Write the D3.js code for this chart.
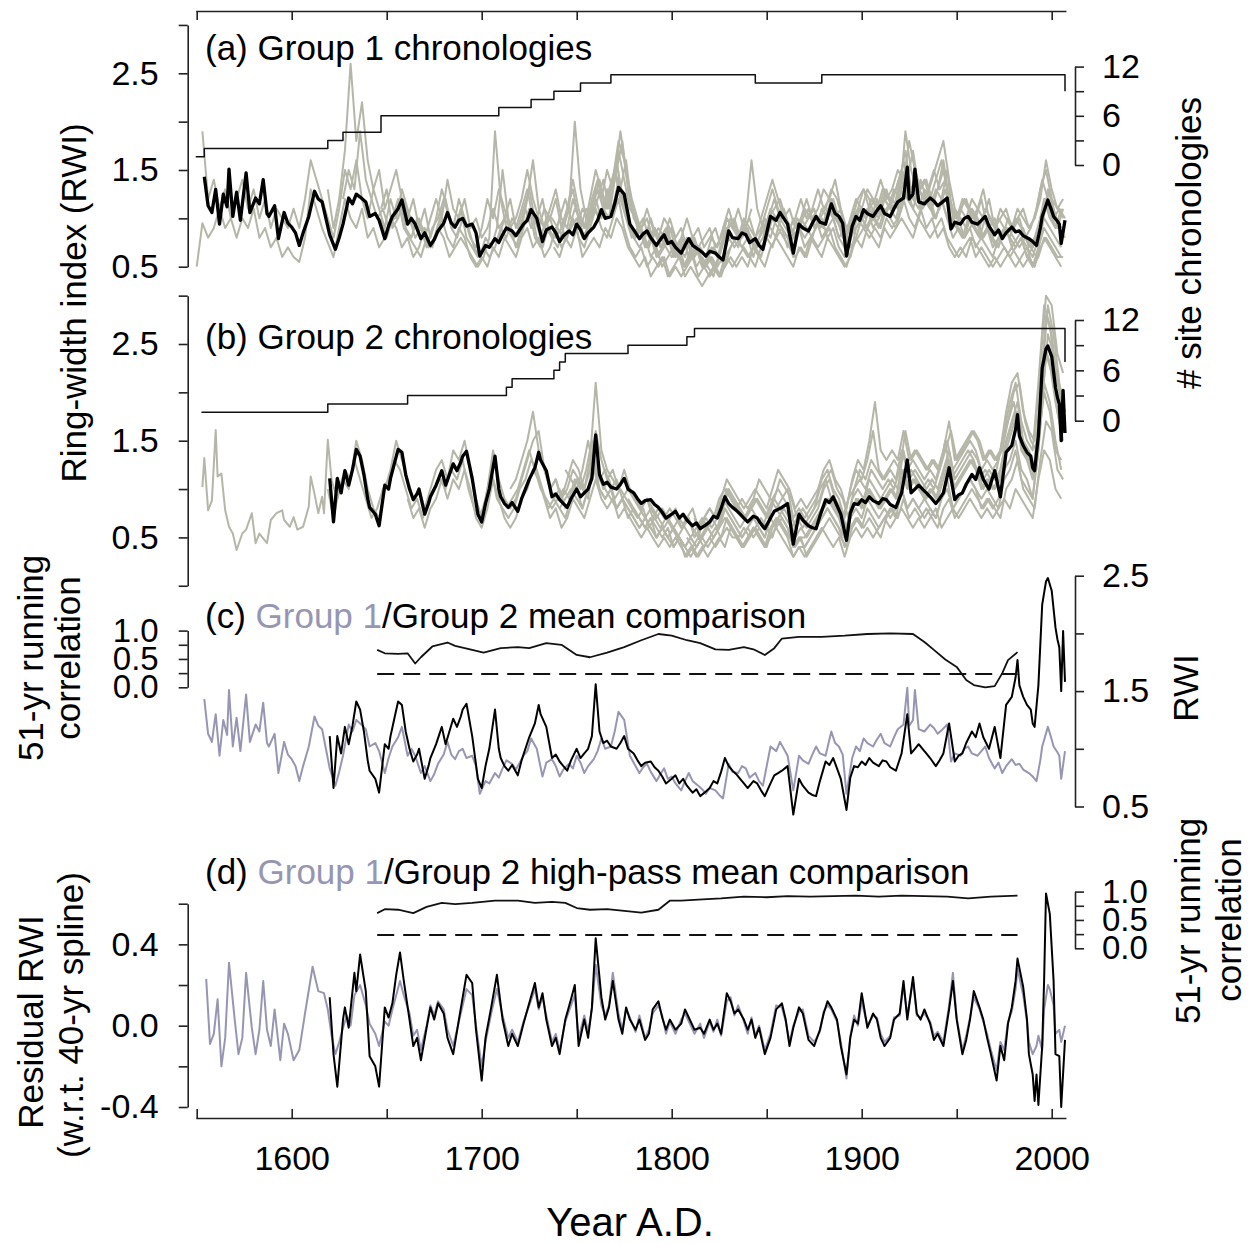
<!DOCTYPE html>
<html><head><meta charset="utf-8">
<script src="https://cdn.jsdelivr.net/npm/d3@7"></script>
<style>body{margin:0;background:#fff} svg{display:block} text{font-family:"Liberation Sans",Arial,sans-serif}</style>
</head><body><svg id="c" width="1252" height="1243"></svg>
<script>
// ---------------- DATA ----------------
const xTicks=[1550,1600,1650,1700,1750,1800,1850,1900,1950,2000];
const xLabels=[1600,1700,1800,1900,2000];
const countA=[[1549.5,1],[1554,2],[1619,3],[1627,4],[1647,6],[1709,7],[1726,8],[1738,9],[1752,10],[1768,11],[1844,10],[1879,11],[2006,11],[2007,9]];
const countB=[[1552.5,1],[1619,2],[1661,3],[1713,4],[1716,5],[1738,6],[1741,7],[1744,8],[1777,9],[1808,10],[1812,11],[2006,11],[2007,7]];
const g1Mean=[[1554,1.43],[1556,1.13],[1558,1.06],[1560,1.30],[1562,0.94],[1564,1.25],[1566,1.12],[1567,1.51],[1569,1.02],[1571,1.27],[1573,0.98],[1576,1.47],[1578,1.06],[1581,1.21],[1583,1.15],[1585,1.40],[1587,1.05],[1588,1.02],[1591,1.13],[1593,0.79],[1596,1.06],[1598,0.95],[1600,0.91],[1602,0.85],[1604,0.72],[1606,0.85],[1609,1.02],[1612,1.28],[1614,1.20],[1616,1.17],[1618,1.0],[1620,0.83],[1623,0.68],[1625,0.80],[1627,0.94],[1630,1.21],[1632,1.15],[1634,1.25],[1636,1.22],[1639,1.17],[1641,1.02],[1644,1.05],[1646,0.98],[1649,0.79],[1651,0.92],[1653,1.02],[1656,1.10],[1658,1.19],[1661,0.94],[1663,1.0],[1665,0.94],[1668,0.79],[1670,0.85],[1673,0.72],[1675,0.78],[1677,0.87],[1680,0.95],[1682,1.06],[1684,0.95],[1686,0.91],[1688,0.98],[1690,1.0],[1692,0.92],[1695,0.94],[1697,0.85],[1699,0.61],[1702,0.72],[1704,0.70],[1707,0.79],[1709,0.75],[1711,0.83],[1713,0.90],[1716,0.87],[1718,0.82],[1722,0.94],[1724,0.98],[1726,1.09],[1729,1.0],[1732,0.76],[1734,0.88],[1737,0.91],[1739,0.85],[1741,0.76],[1743,0.82],[1746,0.87],[1748,0.83],[1750,0.94],[1752,0.88],[1754,0.79],[1756,0.85],[1759,0.91],[1761,0.98],[1763,1.09],[1765,1.0],[1768,1.02],[1770,1.15],[1772,1.32],[1775,1.25],[1778,0.94],[1780,0.88],[1783,0.79],[1785,0.84],[1787,0.87],[1789,0.80],[1792,0.72],[1794,0.78],[1796,0.83],[1798,0.74],[1800,0.76],[1802,0.70],[1805,0.64],[1807,0.72],[1809,0.79],[1811,0.72],[1814,0.68],[1816,0.65],[1818,0.61],[1820,0.66],[1823,0.64],[1825,0.60],[1827,0.57],[1830,0.87],[1832,0.80],[1835,0.79],[1837,0.85],[1839,0.83],[1841,0.75],[1844,0.79],[1846,0.72],[1848,0.68],[1850,0.85],[1852,1.02],[1855,0.98],[1857,1.06],[1859,1.0],[1861,0.94],[1864,0.64],[1867,0.94],[1869,0.90],[1872,0.87],[1874,0.95],[1876,1.02],[1878,0.96],[1881,0.94],[1884,1.15],[1886,1.05],[1888,1.02],[1890,0.95],[1892,0.61],[1895,0.92],[1897,1.02],[1899,0.98],[1901,1.09],[1903,1.05],[1906,1.02],[1908,1.08],[1910,1.13],[1912,1.05],[1915,1.02],[1917,1.10],[1919,1.17],[1922,1.21],[1924,1.53],[1925,1.20],[1927,1.25],[1928,1.51],[1930,1.17],[1933,1.15],[1936,1.21],[1938,1.18],[1940,1.13],[1942,1.16],[1945,1.21],[1947,0.89],[1949,0.96],[1952,0.94],[1954,1.0],[1956,1.02],[1958,0.96],[1961,0.94],[1963,0.98],[1965,1.02],[1967,0.92],[1970,0.83],[1972,0.88],[1974,0.79],[1976,0.85],[1979,0.91],[1981,0.86],[1983,0.87],[1985,0.82],[1988,0.79],[1990,0.76],[1992,0.72],[1994,0.90],[1995,1.02],[1998,1.19],[2000,1.08],[2001,1.02],[2003,0.97],[2004,0.94],[2005,0.74],[2007,0.98]];
const g2Mean=[[1620,1.11],[1622,0.66],[1624,1.11],[1626,0.96],[1628,1.19],[1630,1.04],[1632,1.20],[1634,1.41],[1636,1.34],[1638,1.15],[1640,0.90],[1641,0.81],[1644,0.74],[1646,0.62],[1649,1.04],[1651,1.0],[1652,1.11],[1654,1.26],[1656,1.41],[1658,1.38],[1660,1.15],[1662,1.0],[1664,0.89],[1666,0.95],[1667,1.0],[1670,0.74],[1672,0.85],[1673,0.92],[1676,1.04],[1679,1.19],[1681,1.04],[1683,1.15],[1685,1.26],[1687,1.19],[1689,1.28],[1690,1.34],[1692,1.39],[1695,1.11],[1698,0.74],[1700,0.66],[1702,0.85],[1704,1.0],[1707,1.34],[1709,1.0],[1710,0.92],[1712,0.85],[1714,0.81],[1716,0.86],[1719,0.77],[1721,0.90],[1723,1.0],[1725,1.10],[1728,1.22],[1730,1.38],[1731,1.30],[1734,1.19],[1737,0.92],[1739,0.95],[1741,0.89],[1743,0.85],[1745,0.81],[1747,0.90],[1750,1.0],[1752,0.92],[1754,0.96],[1756,1.0],[1758,1.11],[1760,1.56],[1762,1.15],[1764,1.05],[1766,1.07],[1768,1.02],[1771,1.0],[1773,1.05],[1775,1.11],[1777,1.0],[1780,0.96],[1782,0.90],[1784,0.85],[1786,0.88],[1789,0.89],[1791,0.84],[1793,0.81],[1795,0.76],[1797,0.70],[1800,0.74],[1802,0.77],[1804,0.70],[1806,0.74],[1808,0.68],[1811,0.62],[1813,0.65],[1815,0.59],[1818,0.63],[1820,0.66],[1822,0.72],[1824,0.70],[1826,0.80],[1828,0.92],[1830,0.85],[1832,0.81],[1834,0.78],[1836,0.74],[1838,0.70],[1840,0.66],[1843,0.72],[1845,0.70],[1847,0.64],[1849,0.59],[1852,0.70],[1854,0.77],[1856,0.79],[1858,0.81],[1861,0.85],[1864,0.43],[1867,0.74],[1869,0.68],[1872,0.62],[1874,0.60],[1876,0.59],[1878,0.72],[1881,0.89],[1883,0.86],[1885,0.92],[1887,0.83],[1889,0.74],[1892,0.47],[1894,0.75],[1896,0.85],[1898,0.84],[1900,0.89],[1902,0.86],[1904,0.92],[1906,0.88],[1909,0.85],[1911,0.90],[1913,0.89],[1915,0.84],[1918,0.81],[1921,0.96],[1924,1.30],[1926,0.96],[1928,1.0],[1930,1.04],[1932,1.0],[1934,0.96],[1936,0.92],[1939,0.85],[1941,0.90],[1943,0.96],[1946,1.22],[1949,0.89],[1951,0.94],[1953,0.96],[1955,1.05],[1958,1.15],[1960,1.10],[1962,1.22],[1964,1.10],[1967,1.0],[1970,1.19],[1973,0.92],[1976,1.38],[1979,1.45],[1981,1.62],[1982,1.77],[1983,1.55],[1985,1.45],[1987,1.38],[1989,1.34],[1990,1.22],[1991,1.19],[1993,1.55],[1995,2.25],[1997,2.45],[1998,2.48],[2000,2.37],[2002,2.05],[2003,1.95],[2004,1.88],[2005,1.50],[2006,2.02],[2007,1.58]];
const corrMean=[[1645,0.66],[1649,0.60],[1656,0.59],[1661,0.60],[1665,0.42],[1668,0.53],[1674,0.72],[1682,0.79],[1686,0.73],[1695,0.66],[1701,0.61],[1710,0.69],[1719,0.71],[1725,0.69],[1734,0.78],[1742,0.75],[1750,0.57],[1757,0.53],[1766,0.61],[1775,0.71],[1784,0.83],[1793,0.94],[1800,0.91],[1808,0.83],[1815,0.78],[1823,0.67],[1830,0.66],[1838,0.71],[1843,0.67],[1849,0.57],[1854,0.69],[1858,0.86],[1867,0.89],[1879,0.89],[1891,0.91],[1903,0.94],[1915,0.95],[1927,0.94],[1933,0.80],[1938,0.66],[1944,0.49],[1950,0.36],[1955,0.13],[1959,0.04],[1965,0.0],[1970,0.02],[1974,0.25],[1977,0.48],[1982,0.62]];
const corrHP=[[1645,0.62],[1649,0.69],[1656,0.68],[1664,0.62],[1671,0.73],[1679,0.80],[1686,0.78],[1695,0.80],[1707,0.84],[1719,0.84],[1728,0.80],[1737,0.82],[1744,0.80],[1750,0.71],[1757,0.68],[1766,0.69],[1775,0.66],[1784,0.63],[1793,0.68],[1799,0.84],[1805,0.84],[1814,0.86],[1826,0.88],[1838,0.91],[1850,0.90],[1861,0.92],[1873,0.91],[1885,0.92],[1897,0.93],[1909,0.91],[1921,0.93],[1933,0.92],[1945,0.91],[1956,0.88],[1968,0.91],[1982,0.93]];
const sigLevel=[[1645,0.235],[1982,0.235]];
const g1HP=[[1555,0.23],[1557,-0.09],[1559,-0.04],[1561,0.13],[1563,-0.20],[1565,-0.06],[1567,0.31],[1570,0.03],[1572,-0.14],[1574,-0.06],[1576,0.26],[1579,-0.01],[1581,-0.14],[1583,-0.02],[1585,0.22],[1587,-0.02],[1589,-0.10],[1591,0.08],[1594,-0.17],[1596,0.01],[1598,-0.04],[1601,-0.17],[1604,-0.12],[1607,0.06],[1611,0.29],[1614,0.17],[1617,0.16],[1619,0.08],[1621,-0.05],[1623,-0.14],[1625,-0.08],[1627,-0.01],[1629,0.05],[1631,0.0],[1633,0.15],[1636,0.20],[1639,0.10],[1641,0.01],[1644,-0.04],[1646,-0.10],[1649,0.02],[1651,0.0],[1653,0.08],[1655,0.15],[1657,0.22],[1659,0.15],[1662,0.06],[1664,-0.05],[1666,-0.02],[1668,-0.12],[1671,0.0],[1673,0.10],[1675,0.05],[1677,0.12],[1680,0.08],[1682,-0.02],[1685,-0.10],[1688,0.02],[1692,0.18],[1695,0.15],[1697,0.0],[1700,-0.20],[1702,-0.08],[1705,0.06],[1708,0.18],[1711,0.05],[1714,-0.06],[1716,-0.02],[1719,-0.08],[1722,0.02],[1725,0.10],[1728,0.18],[1730,0.08],[1732,0.14],[1734,0.05],[1737,-0.08],[1739,-0.04],[1741,-0.12],[1744,0.02],[1747,0.10],[1749,0.15],[1751,-0.06],[1754,0.05],[1756,-0.03],[1758,0.08],[1760,0.30],[1763,0.10],[1765,0.05],[1767,0.10],[1769,0.26],[1772,0.06],[1774,-0.02],[1776,0.08],[1778,0.04],[1781,-0.03],[1783,0.05],[1786,-0.06],[1788,-0.02],[1790,0.06],[1793,0.10],[1795,0.05],[1797,-0.04],[1799,0.02],[1802,-0.04],[1805,0.03],[1807,0.06],[1809,0.02],[1812,-0.04],[1815,0.01],[1817,-0.06],[1820,0.02],[1822,-0.03],[1824,0.03],[1826,-0.05],[1829,0.12],[1831,0.14],[1833,0.05],[1835,0.10],[1838,0.02],[1840,-0.04],[1842,0.04],[1844,-0.05],[1846,0.0],[1849,-0.12],[1852,-0.04],[1855,0.10],[1858,0.09],[1860,0.02],[1862,-0.08],[1864,0.0],[1867,0.07],[1869,0.08],[1872,-0.05],[1875,-0.08],[1878,-0.03],[1880,0.07],[1882,0.10],[1884,0.08],[1887,0.02],[1889,-0.08],[1892,-0.26],[1894,-0.05],[1896,0.05],[1898,0.0],[1900,0.12],[1903,0.0],[1906,0.05],[1908,0.04],[1910,-0.04],[1912,-0.08],[1915,-0.05],[1917,0.04],[1920,0.05],[1922,0.20],[1924,0.05],[1927,0.22],[1929,0.05],[1931,0.04],[1933,0.06],[1936,0.02],[1938,-0.05],[1940,-0.03],[1943,-0.08],[1946,0.10],[1948,0.26],[1950,0.04],[1953,-0.12],[1955,-0.05],[1957,0.04],[1959,0.14],[1962,0.08],[1964,0.02],[1966,-0.04],[1968,-0.12],[1971,-0.22],[1973,-0.08],[1975,-0.12],[1977,0.02],[1979,0.07],[1981,0.18],[1982,0.28],[1985,0.15],[1987,0.02],[1988,-0.08],[1990,-0.14],[1992,-0.10],[1993,-0.05],[1995,-0.12],[1996,0.08],[1998,0.20],[1999,0.18],[2001,0.10],[2002,-0.04],[2004,-0.02],[2005,-0.08],[2007,0.0]];
const g2HP=[[1620,0.14],[1622,-0.14],[1624,-0.30],[1627,0.03],[1628,0.09],[1630,-0.01],[1633,0.26],[1634,0.17],[1636,0.35],[1639,0.17],[1641,-0.15],[1644,-0.20],[1646,-0.30],[1649,0.09],[1651,0.04],[1653,0.11],[1655,0.25],[1657,0.36],[1659,0.22],[1662,0.03],[1664,-0.10],[1666,-0.06],[1668,-0.17],[1671,-0.01],[1673,0.09],[1675,0.03],[1677,0.11],[1680,0.06],[1682,-0.06],[1685,-0.14],[1688,0.03],[1692,0.25],[1695,0.21],[1697,-0.02],[1700,-0.27],[1702,-0.06],[1705,0.09],[1708,0.25],[1711,0.03],[1714,-0.10],[1716,-0.04],[1719,-0.10],[1722,0.01],[1725,0.11],[1728,0.21],[1730,0.09],[1732,0.16],[1734,0.03],[1737,-0.10],[1739,-0.06],[1741,-0.14],[1744,0.03],[1747,0.13],[1749,0.20],[1751,-0.10],[1754,0.03],[1756,-0.06],[1758,0.09],[1760,0.43],[1763,0.14],[1765,0.03],[1767,0.09],[1769,0.22],[1772,0.03],[1774,-0.04],[1776,0.09],[1778,0.03],[1781,-0.02],[1783,0.03],[1786,-0.07],[1788,-0.04],[1790,0.08],[1793,0.12],[1795,0.04],[1797,-0.02],[1799,0.03],[1802,-0.02],[1805,0.01],[1807,0.08],[1809,0.04],[1812,-0.02],[1815,-0.01],[1817,-0.04],[1820,0.03],[1822,-0.02],[1824,0.01],[1826,-0.04],[1829,0.16],[1831,0.12],[1833,0.06],[1835,0.08],[1838,0.03],[1840,-0.02],[1842,0.03],[1844,-0.06],[1846,-0.01],[1849,-0.14],[1852,-0.06],[1855,0.08],[1858,0.11],[1860,0.03],[1862,-0.10],[1864,-0.01],[1867,0.09],[1869,0.06],[1872,-0.07],[1875,-0.10],[1878,-0.02],[1880,0.06],[1882,0.12],[1884,0.09],[1887,0.03],[1889,-0.10],[1892,-0.24],[1894,-0.06],[1896,0.03],[1898,0.01],[1900,0.16],[1903,-0.01],[1906,0.06],[1908,0.03],[1910,-0.06],[1912,-0.10],[1915,-0.06],[1917,0.03],[1920,0.06],[1922,0.22],[1924,0.03],[1927,0.24],[1929,0.06],[1931,0.03],[1933,0.08],[1936,0.01],[1938,-0.07],[1940,-0.04],[1943,-0.10],[1946,0.08],[1948,0.22],[1950,0.03],[1953,-0.14],[1955,-0.07],[1957,0.03],[1959,0.17],[1962,0.09],[1964,0.03],[1966,-0.06],[1968,-0.14],[1971,-0.27],[1973,-0.10],[1975,-0.17],[1977,0.01],[1979,0.09],[1981,0.22],[1982,0.33],[1985,0.19],[1987,0.03],[1988,-0.14],[1990,-0.24],[1991,-0.37],[1992,-0.24],[1993,-0.39],[1995,-0.10],[1996,0.22],[1997,0.65],[1999,0.55],[2001,0.22],[2002,-0.14],[2004,-0.15],[2005,-0.40],[2007,-0.07]];
// individual site chronologies (values every 3 yr from the start year)
const greyAStart=[1550,1553,1619,1647,1709,1738,1627,1768,1647,1726,1752,1879];
const gA1=[0.5,0.95,0.8,0.9,1.1,0.9,1.0,0.8,1.0,0.9, 1.1,0.8,0.9,0.7,0.8,0.6,0.7,0.6,0.55,0.8, 1.3,1.1,0.9,0.75,0.6,0.9,1.2,1.0,0.9,1.1, 0.8,0.9,0.7,0.8,1.0,0.9,0.7,0.8,0.6,0.7, 0.9,0.7,0.8,1.0,0.8,0.7,0.9,0.8,0.6,0.5, 0.6,0.5,0.7,0.6,0.8,0.7,0.6,0.8,0.9,0.7, 0.8,0.6,0.7,0.9,0.7,0.8,1.0,0.8,0.7,0.9, 1.1,0.9,0.8,1.0,1.2,0.9,0.7,0.6,0.7,0.5, 0.6,0.5,0.6,0.4,0.5,0.4,0.5,0.6,0.4,0.5, 0.4,0.5,0.4,0.6,0.5,0.6,0.7,0.6,0.5,0.7, 0.8,0.7,0.9,0.8,0.7,0.6,0.7,0.6,0.8,0.7, 0.8,0.9,0.7,0.6,0.5,0.7,0.8,0.9,0.8,0.9, 0.8,1.0,0.9,1.0,1.2,1.0,0.9,1.1,0.9,1.0, 0.8,0.9,0.7,0.6,0.7,0.6,0.8,0.7,0.6,0.5, 0.6,0.5,0.6,0.7,0.6,0.5,0.6,0.5,0.7,0.8, 0.7,0.6,0.6];
const gA2=[1.9,1.2,1.4,1.1,1.3,1.0,1.2,1.4,1.1,1.3, 1.0,1.2,0.9,1.1,1.0,0.9,1.1,0.9,1.2,1.6, 1.4,1.2,1.0,0.8,1.1,1.5,1.3,1.6,1.2,1.0, 1.3,1.1,0.9,1.2,1.0,1.3,1.1,0.9,1.0,0.8, 1.0,1.2,1.0,1.4,1.1,1.0,1.2,0.9,1.0,0.8, 0.9,1.1,0.9,1.0,1.2,0.9,1.1,1.3,1.0,0.9, 1.1,1.0,1.2,0.9,1.1,1.4,1.1,0.9,1.0,1.3, 1.2,1.5,1.3,1.7,1.4,1.1,1.0,0.9,1.0,0.8, 0.9,0.8,1.0,0.8,0.9,0.7,0.8,0.7,0.8,0.9, 0.7,0.8,1.0,0.9,1.1,0.9,1.0,0.8,0.9,1.1, 1.3,1.1,1.0,0.9,1.0,1.2,1.0,1.1,1.3,1.1, 1.2,1.0,1.1,0.8,1.0,1.2,1.3,1.1,1.2,1.4, 1.2,1.3,1.5,1.4,1.8,1.5,1.3,1.4,1.2,1.3, 1.5,1.2,1.0,1.1,1.0,1.2,1.1,1.0,1.2,0.9, 1.0,1.1,0.9,1.0,1.1,0.9,1.0,1.3,1.5,1.2, 1.1,1.0];
const gA3=[1.3,0.9,1.2,1.7,2.6,1.8,2.2,1.6,1.3,1.5, 1.1,1.3,1.5,1.2,1.0,1.2,0.9,1.1,0.8,1.0, 1.3,1.1,0.9,1.2,1.0,0.8,0.7,0.9,1.2,1.0, 1.3,1.1,0.9,1.0,1.2,1.5,1.2,1.0,0.9,1.1, 1.3,1.0,0.9,1.2,1.0,0.8,1.0,1.2,1.0,1.3, 1.1,1.4,1.2,0.9,0.8,0.9,0.7,0.8,0.6,0.7, 0.8,0.6,0.7,0.8,0.6,0.7,0.5,0.6,0.5,0.7, 0.9,0.8,0.7,0.9,0.8,0.7,0.6,0.8,1.0,0.9, 1.1,0.9,0.8,1.0,0.9,0.8,1.0,0.9,1.1,1.0, 0.9,0.7,0.9,1.0,0.9,1.1,1.0,0.9,1.1,1.2, 1.1,1.4,1.2,1.3,1.1,1.2,1.4,1.6,1.8,1.4, 1.1,1.0,0.9,1.1,1.0,0.8,0.9,1.0,0.8,0.9, 0.7,0.8,0.9,0.7,0.8,1.0,1.2,1.0,0.9,1.1];
const gA4=[1.0,0.8,1.0,1.2,0.9,0.8,0.7,0.6,0.8,0.7, 0.9,0.8,0.6,0.7,0.8,0.7,0.6,0.5,0.6,0.8, 1.9,1.2,0.9,0.8,0.7,0.9,1.1,0.8,0.7,0.9, 0.8,0.7,0.9,1.1,2.0,1.3,1.0,1.1,1.3,1.1, 1.0,1.4,1.9,1.5,1.2,1.0,0.8,0.9,0.7,0.8, 0.7,0.6,0.7,0.5,0.6,0.8,0.6,0.5,0.6,0.5, 0.6,0.8,0.7,0.8,1.0,1.6,1.1,0.9,1.0,1.2, 1.0,0.9,0.8,1.0,0.9,1.0,1.1,0.9,1.0,1.2, 1.0,0.8,0.9,1.0,1.1,0.9,1.0,1.2,1.0,1.1, 1.3,1.2,1.9,1.5,1.3,1.1,1.2,1.0,1.1,1.3, 1.0,0.9,0.8,1.0,0.9,0.8,1.0,0.8,0.7,0.8, 0.9,0.8,0.7,0.8,0.7,0.6,0.9,1.3,1.1,0.9, 0.8];
const gA5=[0.8,1.0,0.9,0.7,0.9,1.2,1.6,1.1,0.9,1.0, 0.8,0.9,1.1,1.3,1.0,0.9,1.2,1.5,1.3,1.1, 1.4,1.8,1.6,1.2,1.0,0.9,1.1,0.9,0.8,1.0, 0.9,0.7,0.8,1.0,0.8,0.9,0.7,0.8,0.9,0.7, 1.0,0.9,0.8,1.0,0.9,0.8,1.0,1.2,1.4,1.2, 1.0,1.1,0.9,1.0,1.2,1.0,1.1,1.3,1.2,1.4, 1.1,0.9,1.0,1.1,1.3,1.2,1.0,1.1,1.3,1.1, 1.2,1.6,1.3,1.2,1.4,1.2,1.1,1.3,1.6,1.2, 1.0,1.1,1.2,1.0,1.1,1.3,1.0,0.9,1.1,1.0, 0.9,1.1,1.0,0.9,1.0,1.2,1.6,1.3,1.1,1.2];
const gA6=[0.7,0.6,0.8,0.7,0.9,0.6,0.7,0.8,0.7,0.9, 0.8,1.0,0.9,0.7,0.6,0.5,0.6,0.4,0.5,0.6, 0.4,0.5,0.6,0.4,0.5,0.4,0.3,0.4,0.5,0.4, 0.5,0.6,0.5,0.6,0.5,0.7,0.6,0.5,0.7,0.8, 0.7,0.6,0.5,0.7,0.6,0.8,0.7,0.6,0.8,0.7, 0.6,0.5,0.6,0.8,0.7,0.9,0.8,0.7,0.9,0.8, 0.9,1.0,0.9,0.8,1.0,0.9,0.8,0.9,1.0,0.8, 0.7,0.6,0.7,0.8,0.6,0.7,0.6,0.5,0.6,0.7, 0.6,0.5,0.6,0.7,0.5,0.6,0.8,0.7,0.6,0.5];
const gA7=[1.2,1.5,1.3,1.9,1.4,1.2,1.0,1.1,0.9,1.0, 1.2,0.9,0.8,1.0,0.9,0.7,0.8,1.0,1.2,0.9, 0.8,1.0,0.9,0.7,0.6,0.8,0.7,0.9,1.5,1.0, 0.8,0.9,1.1,0.9,1.0,1.2,0.9,0.8,1.0,1.2, 1.0,0.9,1.1,1.0,1.2,1.4,1.1,1.3,1.6,1.2, 1.0,0.8,0.9,0.7,0.8,0.6,0.7,0.9,0.6,0.7, 0.5,0.6,0.7,0.5,0.6,0.5,0.4,0.6,0.7,0.8, 0.7,0.8,0.6,0.8,1.0,0.9,0.8,0.9,0.8,0.6, 0.9,0.8,0.9,1.0,0.8,0.9,1.0,0.8,0.7,0.6, 0.9,1.0,1.1,0.9,1.0,1.2,1.1,1.0,1.2,1.4, 1.2,1.1,1.3,1.2,1.0,1.2,1.5,1.0,0.9,0.8, 1.0,0.9,0.8,0.9,0.7,0.8,0.9,0.8,0.7,0.8, 0.7,0.6,0.8,1.1,1.3,1.0,0.9];
const gA8=[1.2,1.5,1.8,1.3,1.0,0.9,0.8,1.0,0.8,0.7, 0.8,0.6,0.7,0.6,0.8,0.7,0.5,0.6,0.7,0.6, 0.8,1.0,0.9,0.8,0.9,0.7,0.8,0.9,1.1,1.0, 0.9,0.8,1.0,0.9,1.1,1.0,0.9,1.1,1.0,1.2, 1.0,0.8,1.0,1.2,1.1,1.3,1.2,1.1,1.3,1.2, 1.3,1.5,1.4,1.7,1.3,1.4,1.2,1.4,1.6,1.3, 1.1,1.0,1.2,1.1,1.0,1.2,0.9,0.8,1.0,0.9, 0.8,1.0,0.9,0.8,0.7,0.9,1.2,1.0,0.9,1.1];
const gA9=[1.1,1.3,0.9,1.0,1.2,1.0,0.8,0.9,0.7,0.9, 1.0,1.2,1.0,0.9,1.1,0.8,0.7,0.6,0.7,0.6, 0.7,0.9,0.8,1.0,0.9,1.1,1.3,1.0,0.8,1.0, 1.0,0.9,0.8,0.9,1.1,1.0,0.9,1.2,1.4,1.1, 1.3,1.5,1.2,1.0,0.8,0.9,0.8,0.7,0.9,0.8, 0.9,0.7,0.6,0.8,0.7,0.6,0.7,0.6,0.8,0.7, 0.9,1.1,0.9,0.8,0.9,0.8,0.7,0.8,1.0,1.1, 1.2,1.0,0.9,0.8,1.0,1.1,0.9,1.0,1.1,1.3, 1.2,1.0,0.7,0.9,1.1,1.0,1.2,1.1,1.3,1.2, 1.1,1.4,1.7,1.3,1.4,1.2,1.3,1.5,1.3,1.4, 1.1,1.0,1.2,1.1,1.0,0.9,1.1,1.0,0.9,0.8, 1.0,0.9,1.0,0.8,0.9,1.1,1.4,1.2,1.0,1.1, 1.0];
const gA10=[1.1,0.8,0.7,0.9,0.8,1.0,0.8,0.9,1.0,0.8, 0.9,1.1,1.0,1.2,1.3,1.6,1.2,1.0,0.8,0.7, 0.8,0.6,0.7,0.5,0.6,0.7,0.6,0.5,0.7,0.5, 0.6,0.5,0.4,0.6,0.5,0.7,0.8,0.7,0.6,0.7, 0.8,0.9,0.8,1.0,0.9,0.7,0.8,0.9,0.7,0.8, 0.9,1.0,0.8,0.9,0.7,0.6,0.8,0.9,1.0,0.9, 1.0,0.9,1.1,1.0,0.9,1.1,1.3,1.1,1.0,1.2, 1.1,1.0,1.2,1.0,0.8,0.9,0.8,0.9,0.7,0.8, 0.7,0.6,0.8,0.7,0.6,0.7,0.8,0.6,0.5,0.7, 0.9,0.8,0.7,0.6];
const gA11=[0.9,1.1,1.0,1.2,1.4,1.1,1.5,1.3,1.6,1.1, 0.9,1.0,0.8,0.9,0.7,0.8,0.9,0.7,0.8,0.6, 0.7,0.6,0.5,0.7,0.6,0.8,0.9,1.0,0.8,0.9, 1.1];
const gA12=[0.9,1.1,1.0,0.8,0.9,0.7,0.8,1.0,0.9,1.1, 1.0,1.2,1.1,1.3,1.5,1.2,1.1,1.3,1.2,1.1, 1.3,1.2,1.0,0.9,1.0,0.8,0.9,1.0,0.8,0.9, 0.8,0.7,0.9,0.8,0.7,0.8,0.6,0.7,0.9,1.0, 0.9,0.8,0.7];
const greyBEarly=[[1553,1.02],[1554,1.32],[1556,0.78],[1558,0.88],[1560,1.61],[1561,1.13],[1563,1.16],[1565,0.78],[1567,0.61],[1569,0.54],[1571,0.37],[1574,0.54],[1576,0.58],[1579,0.75],[1581,0.44],[1583,0.54],[1587,0.44],[1589,0.68],[1592,0.75],[1595,0.78],[1596,0.68],[1599,0.61],[1601,0.71],[1603,0.58],[1606,0.61],[1609,0.82],[1610,1.13],[1612,0.95],[1614,0.75],[1616,0.92],[1617,0.75],[1619,1.51],[1621,1.09]];
const greyBStart=[1621,1619,1661,1715,1741,1812,1777,1713,1738,1744,1808];
const gB1=[1.09,0.9,1.1,1.0,1.3,1.1,0.9,0.7,0.8,1.0, 1.1,1.3,1.2,1.0,0.8,0.9,0.7,0.9,1.0,1.1, 1.0,1.2,1.1,1.3,1.0,0.8,0.7,0.9,1.2,0.9, 0.8,0.7,0.8,1.0,1.1,1.3,1.2,1.0,0.8,0.9, 0.8,0.7,0.9,1.0,0.8,1.0,1.3,1.0,0.9,1.0, 0.8,0.9,0.8,0.7,0.6,0.7,0.6,0.5,0.6,0.5, 0.6,0.5,0.4,0.5,0.4,0.5,0.6,0.5,0.6,0.8, 0.7,0.6,0.5,0.6,0.5,0.6,0.5,0.7,0.6,0.7, 0.6,0.4,0.5,0.4,0.5,0.6,0.7,0.8,0.7,0.6, 0.5,0.7,0.8,0.7,0.9,0.8,0.7,0.8,0.7,0.8, 1.0,0.8,0.9,0.8,0.9,0.8,0.7,0.9,1.0,0.8, 0.9,1.0,1.1,1.0,0.9,1.0,0.9,0.8,1.1,1.2, 1.4,1.1,1.0,0.9,1.5,2.0,1.8,1.4,1.3];
const gB2=[1.0,0.7,1.0,1.2,1.1,1.5,1.3,1.0,0.8,0.7, 1.0,1.2,1.5,1.3,1.1,0.9,1.0,0.8,1.0,1.2, 1.3,1.1,1.4,1.3,1.5,1.2,0.9,0.7,1.0,1.4, 1.1,0.9,0.8,0.9,1.1,1.3,1.5,1.6,1.2,1.0, 1.1,0.9,1.0,1.2,1.1,1.0,1.3,2.1,1.4,1.2, 1.1,1.0,1.2,1.0,0.9,0.8,0.9,0.8,0.7,0.6, 0.7,0.8,0.6,0.7,0.6,0.5,0.7,0.8,0.7,0.8, 1.0,0.9,0.8,0.7,0.8,0.9,0.8,0.7,0.9,1.0, 0.9,0.8,0.6,0.7,0.6,0.7,0.8,1.0,1.1,0.9, 0.8,0.6,0.9,1.0,0.9,1.1,1.0,0.9,1.0,1.1, 1.0,1.4,1.1,1.2,1.1,1.0,1.1,1.0,1.2,1.4, 1.1,1.2,1.3,1.4,1.3,1.1,1.2,1.1,1.2,1.5, 1.7,1.9,1.5,1.4,1.2,2.0,2.8,2.6,2.1,1.9];
const gB3=[0.9,0.7,0.8,0.6,0.8,0.9,1.1,0.9,1.1,1.0, 1.2,1.0,0.7,0.6,0.8,1.1,0.9,0.7,0.6,0.7, 0.9,1.0,1.2,1.1,0.9,0.7,0.8,0.6,0.7,0.9, 0.8,0.7,0.9,1.1,0.9,0.8,0.9,0.7,0.8,0.7, 0.6,0.5,0.6,0.5,0.4,0.5,0.4,0.5,0.4,0.3, 0.4,0.3,0.4,0.5,0.4,0.5,0.6,0.5,0.5,0.4, 0.5,0.6,0.5,0.4,0.6,0.7,0.6,0.5,0.4,0.5, 0.3,0.4,0.5,0.6,0.7,0.6,0.5,0.4,0.6,0.7, 0.6,0.7,0.6,0.5,0.7,0.8,0.7,0.9,0.7,0.8, 0.7,0.8,0.7,0.6,0.8,0.9,0.7,0.8,0.9,1.0, 0.9,0.8,0.9,0.8,0.7,1.0,1.1,1.3,1.0,0.9, 0.8,1.3,1.7,1.6,1.2,1.1];
const gB4=[1.0,1.1,1.3,1.5,1.8,1.4,1.2,1.0,1.1,0.9, 1.1,1.3,1.2,1.0,1.2,1.6,1.3,1.1,1.2,1.0, 1.1,1.0,0.9,0.8,0.9,0.7,0.8,0.7,0.8,0.7, 0.6,0.7,0.8,0.6,0.7,0.8,0.7,0.9,1.1,1.0, 0.9,0.8,0.9,1.0,0.9,0.8,1.0,1.2,1.1,1.0, 0.8,0.9,0.8,0.9,1.0,1.2,1.3,1.1,1.0,0.8, 1.1,1.3,1.2,1.5,1.9,1.4,1.3,1.4,1.3,1.6, 1.3,1.4,1.3,1.2,1.3,1.2,1.4,1.7,1.3,1.4, 1.5,1.6,1.5,1.3,1.4,1.3,1.4,1.8,2.1,2.2, 1.8,1.6,1.5,2.3,3.0,2.9,2.4,2.2];
const gB5=[0.8,0.9,1.0,0.9,0.8,1.0,1.2,1.0,0.9,1.0, 0.8,0.9,0.8,0.7,0.6,0.7,0.6,0.5,0.6,0.5, 0.6,0.5,0.4,0.5,0.4,0.5,0.6,0.5,0.6,0.8, 0.7,0.6,0.5,0.6,0.7,0.6,0.5,0.7,0.8,0.7, 0.6,0.4,0.5,0.5,0.6,0.7,0.8,0.9,0.8,0.7, 0.5,0.7,0.9,0.8,1.0,0.9,0.8,0.9,1.0,0.9, 1.2,1.0,1.1,1.0,0.9,1.0,0.9,1.1,1.3,1.0, 1.1,1.2,1.3,1.2,1.0,1.1,1.0,1.1,1.4,1.6, 1.8,1.4,1.3,1.1,1.7,2.5,2.3,1.9,1.6];
const gB6=[0.7,0.5,0.6,0.7,0.6,0.8,1.0,0.9,0.8,0.7, 0.8,0.9,0.8,0.7,0.9,1.1,1.0,0.9,0.7,0.8, 0.7,0.8,0.9,1.1,1.2,1.0,0.9,0.7,1.0,1.2, 1.1,1.3,1.2,1.1,1.2,1.3,1.2,1.6,1.3,1.4, 1.3,1.2,1.3,1.2,1.4,1.6,1.3,1.4,1.5,1.6, 1.5,1.3,1.4,1.3,1.4,1.7,2.0,2.1,1.7,1.5, 1.4,2.2,2.9,2.6,2.1,1.8];
const gB7=[0.9,0.8,0.7,0.6,0.7,0.5,0.6,0.5,0.4,0.5, 0.3,0.4,0.3,0.4,0.3,0.4,0.5,0.4,0.6,0.5, 0.4,0.5,0.6,0.5,0.4,0.5,0.6,0.5,0.4,0.3, 0.4,0.3,0.4,0.5,0.6,0.5,0.4,0.5,0.3,0.5, 0.6,0.5,0.6,0.5,0.6,0.7,0.6,0.7,0.8,0.7, 0.6,0.7,0.6,0.7,0.8,0.6,0.7,0.8,0.7,0.8, 0.9,0.8,0.7,0.8,0.7,0.8,0.9,0.8,1.0,0.9, 0.8,0.7,1.1,1.4,1.3,1.0,0.9];
const gB8=[0.8,0.9,1.0,1.2,1.4,1.2,1.0,0.9,0.8,0.9, 1.0,0.9,1.1,1.0,1.2,1.5,1.2,1.0,1.1,0.9, 1.0,0.9,0.8,0.7,0.8,0.6,0.7,0.6,0.7,0.6, 0.5,0.6,0.7,0.5,0.6,0.7,0.6,0.7,0.9,0.8, 0.7,0.6,0.7,0.8,0.7,0.6,0.8,0.9,0.8,0.7, 0.6,0.7,0.6,0.7,0.8,1.0,1.1,0.9,0.8,0.7, 0.9,1.0,1.1,1.0,1.2,1.1,1.0,1.1,1.0,1.2, 1.1,1.2,1.1,1.0,1.1,1.0,1.2,1.5,1.1,1.2, 1.3,1.4,1.3,1.1,1.2,1.1,1.2,1.5,1.7,1.9, 1.6,1.4,1.3,1.2,1.9,2.6,2.4,2.0,1.7];
const gB9=[0.9,1.0,0.8,0.9,1.1,1.0,0.9,1.3,1.1,1.0, 0.9,0.8,0.9,0.7,0.8,0.7,0.6,0.7,0.6,0.5, 0.6,0.4,0.5,0.4,0.3,0.4,0.5,0.4,0.5,0.6, 0.7,0.6,0.5,0.4,0.5,0.6,0.5,0.4,0.6,0.7, 0.6,0.5,0.3,0.4,0.4,0.5,0.6,0.7,0.8,0.7, 0.6,0.4,0.6,0.7,0.6,0.8,0.7,0.6,0.7,0.8, 0.7,1.0,0.8,0.9,0.8,0.7,0.8,0.7,0.9,1.1, 0.8,0.9,1.0,1.1,1.0,0.8,0.9,0.8,0.9,1.2, 1.3,1.5,1.2,1.1,0.9,1.4,2.1,1.9,1.5,1.2];
const gB10=[1.2,1.1,1.0,1.2,1.5,1.2,1.1,1.2,1.0,1.1, 0.9,1.0,0.9,0.8,0.7,0.8,0.7,0.8,0.7,0.6, 0.7,0.6,0.5,0.6,0.7,0.6,0.7,0.9,1.0,0.9, 0.8,0.9,0.8,0.9,1.1,1.0,0.9,0.8,0.9,1.0, 0.7,0.8,0.7,0.8,0.9,1.1,1.2,1.0,0.9,0.7, 1.0,1.2,1.1,1.3,1.6,1.2,1.1,1.2,1.1,1.4, 1.2,1.3,1.2,1.1,1.2,1.1,1.3,1.5,1.2,1.3, 1.4,1.5,1.4,1.2,1.3,1.2,1.3,1.6,1.9,2.1, 1.7,1.5,1.4,2.1,2.9,2.7,2.2,2.0];
const gB11=[0.5,0.4,0.5,0.4,0.5,0.6,0.5,0.7,0.6,0.5, 0.6,0.5,0.6,0.7,0.6,0.5,0.7,0.8,0.7,0.5, 0.6,0.5,0.6,0.7,0.8,0.9,0.8,0.7,0.5,0.8, 0.9,0.8,1.0,0.9,0.8,0.9,1.0,0.9,1.2,1.0, 1.1,1.0,0.9,1.0,0.9,1.1,1.3,1.0,1.1,1.2, 1.3,1.2,1.0,1.1,1.0,1.1,1.4,1.6,1.8,1.4, 1.3,1.1,1.7,2.4,2.2,1.8,1.5];
const greyA=[gA1,gA2,gA3,gA4,gA5,gA6,gA7,gA8,gA9,gA10,gA11,gA12];
const greyB=[gB1,gB2,gB3,gB4,gB5,gB6,gB7,gB8,gB9,gB10,gB11];

// ---------------- DRAWING ----------------
const svg=d3.select('#c');
const AX='#222', GREY='#b6b6a8', LAV='#9696b4';
const x=d3.scaleLinear().domain([1549.5,2007.5]).range([195.75,1065.95]);
const yA=d3.scaleLinear().domain([0.5,3]).range([266.7,24.95]);
const nA=d3.scaleLinear().domain([0,12]).range([165,66.6]);
const yB=d3.scaleLinear().domain([0,3]).range([585.75,295.65]);
const nB=d3.scaleLinear().domain([0,12]).range([420.7,320]);
const yC=d3.scaleLinear().domain([0.5,2.5]).range([806.5,575.7]);
const rC=d3.scaleLinear().domain([0,1]).range([687.3,630.6]);
const yD=d3.scaleLinear().domain([-0.4,0.6]).range([1107.0,903.7]);
const rD=d3.scaleLinear().domain([0,1]).range([948.3,891.6]);

function draw(data, ys, stroke, w, curve, dash){
  const p=svg.append('path').datum(data)
    .attr('d', d3.line().x(d=>x(d[0])).y(d=>ys(d[1])).curve(curve||d3.curveLinear))
    .attr('fill','none').attr('stroke',stroke).attr('stroke-width',w)
    .attr('stroke-linejoin','round');
  if(dash) p.attr('stroke-dasharray',dash);
  return p;
}
const seq=(start,vals)=>vals.map((v,i)=>[start+3*i,v]);

function styleAxis(g, fs){
  g.select('.domain').attr('stroke',AX).attr('stroke-width',1.6);
  g.selectAll('.tick line').attr('stroke',AX).attr('stroke-width',1.6);
  g.selectAll('.tick text').attr('fill','#000').style('font-size',fs+'px')
   .style('font-family','"Liberation Sans", Arial, sans-serif');
}
function leftAxis(scale, ticks, labels, fs){
  const g=svg.append('g').attr('transform','translate(187.7,0)')
   .call(d3.axisLeft(scale).tickValues(ticks).tickSize(9).tickSizeOuter(0).tickPadding(20)
     .tickFormat(d=>labels.some(l=>Math.abs(l-d)<1e-9)?d.toFixed(1):''));
  styleAxis(g,fs||34);
}
function rightAxis(scale, ticks, labels, fmt, fs){
  const g=svg.append('g').attr('transform','translate(1075,0)')
   .call(d3.axisRight(scale).tickValues(ticks).tickSize(9).tickSizeOuter(0).tickPadding(18)
     .tickFormat(d=>labels.some(l=>Math.abs(l-d)<1e-9)?fmt(d):''));
  styleAxis(g,fs||34);
}

// ---- panel (a)
greyA.forEach((s,i)=>draw(seq(greyAStart[i],s), yA, GREY, 2));
draw(countA, nA, '#111', 1.5, d3.curveStepAfter);
draw(g1Mean, yA, '#000', 3.3);
// ---- panel (b)
draw(greyBEarly, yB, GREY, 2);
greyB.forEach((s,i)=>draw(seq(greyBStart[i],s), yB, GREY, 2));
draw(countB, nB, '#111', 1.5, d3.curveStepAfter);
draw(g2Mean, yB, '#000', 3.3);
// ---- panel (c)
draw(g1Mean, yC, LAV, 2.0);
draw(g2Mean, yC, '#000', 2.0);
draw(corrMean, rC, '#111', 1.8);
draw(sigLevel, rC, '#111', 1.8, null, '17,9');
// ---- panel (d)
draw(g1HP, yD, LAV, 2.0);
draw(g2HP, yD, '#000', 2.0);
draw(corrHP, rD, '#111', 1.8);
draw(sigLevel, rD, '#111', 1.8, null, '17,9');

// ---- axes
const topAx=svg.append('g').attr('transform','translate(0,11)')
  .call(d3.axisBottom(x).tickValues(xTicks).tickSize(9).tickSizeOuter(0).tickFormat(''));
styleAxis(topAx,34);
const botAx=svg.append('g').attr('transform','translate(0,1118)')
  .call(d3.axisBottom(x).tickValues(xTicks).tickSize(-9).tickSizeOuter(0).tickPadding(28)
    .tickFormat(d=>xLabels.includes(d)?String(d):''));
styleAxis(botAx,34);

leftAxis(yA,[0.5,1,1.5,2,2.5,3],[0.5,1.5,2.5]);
leftAxis(yB,[0,0.5,1,1.5,2,2.5,3],[0.5,1.5,2.5]);
leftAxis(rC,[0,0.25,0.5,0.75,1],[0,0.5,1],33);
leftAxis(yD,[-0.4,-0.2,0,0.2,0.4,0.6],[-0.4,0,0.4]);
rightAxis(nA,[0,3,6,9,12],[0,6,12],d=>String(d));
rightAxis(nB,[0,3,6,9,12],[0,6,12],d=>String(d));
rightAxis(yC,[0.5,1,1.5,2,2.5],[0.5,1.5,2.5],d=>d.toFixed(1));
rightAxis(rD,[0,0.25,0.5,0.75,1],[0,0.5,1],d=>d.toFixed(1),33);

// ---- text
function txt(x0,y0,str,fs,rot,anchor){
  return svg.append('text')
   .attr('transform',`translate(${x0},${y0})`+(rot?` rotate(${rot})`:''))
   .attr('text-anchor',anchor||'middle').style('font-size',fs+'px').attr('fill','#000').text(str);
}
txt(86,303,'Ring-width index (RWI)',35,-90);
txt(43,658,'51-yr running',35,-90);
txt(80,658,'correlation',35,-90);
txt(43,1022,'Residual RWI',35,-90);
txt(83,1015,'(w.r.t. 40-yr spline)',35,-90);
txt(1201,243,'# site chronologies',35,-90);
txt(1198,688,'RWI',35,-90);
txt(1200,921,'51-yr running',35,-90);
txt(1241,920,'correlation',35,-90);
txt(630,1236,'Year A.D.',40,0);

txt(205,60,'(a) Group 1 chronologies',35,0,'start');
txt(205,349,'(b) Group 2 chronologies',35,0,'start');
const tc=svg.append('text').attr('x',205).attr('y',628).style('font-size','35px');
tc.append('tspan').attr('fill','#000').text('(c) ');
tc.append('tspan').attr('fill',LAV).text('Group 1');
tc.append('tspan').attr('fill','#000').text('/Group 2 mean comparison');
const td=svg.append('text').attr('x',205).attr('y',884).style('font-size','35px');
td.append('tspan').attr('fill','#000').text('(d) ');
td.append('tspan').attr('fill',LAV).text('Group 1');
td.append('tspan').attr('fill','#000').text('/Group 2 high-pass mean comparison');
</script></body></html>
